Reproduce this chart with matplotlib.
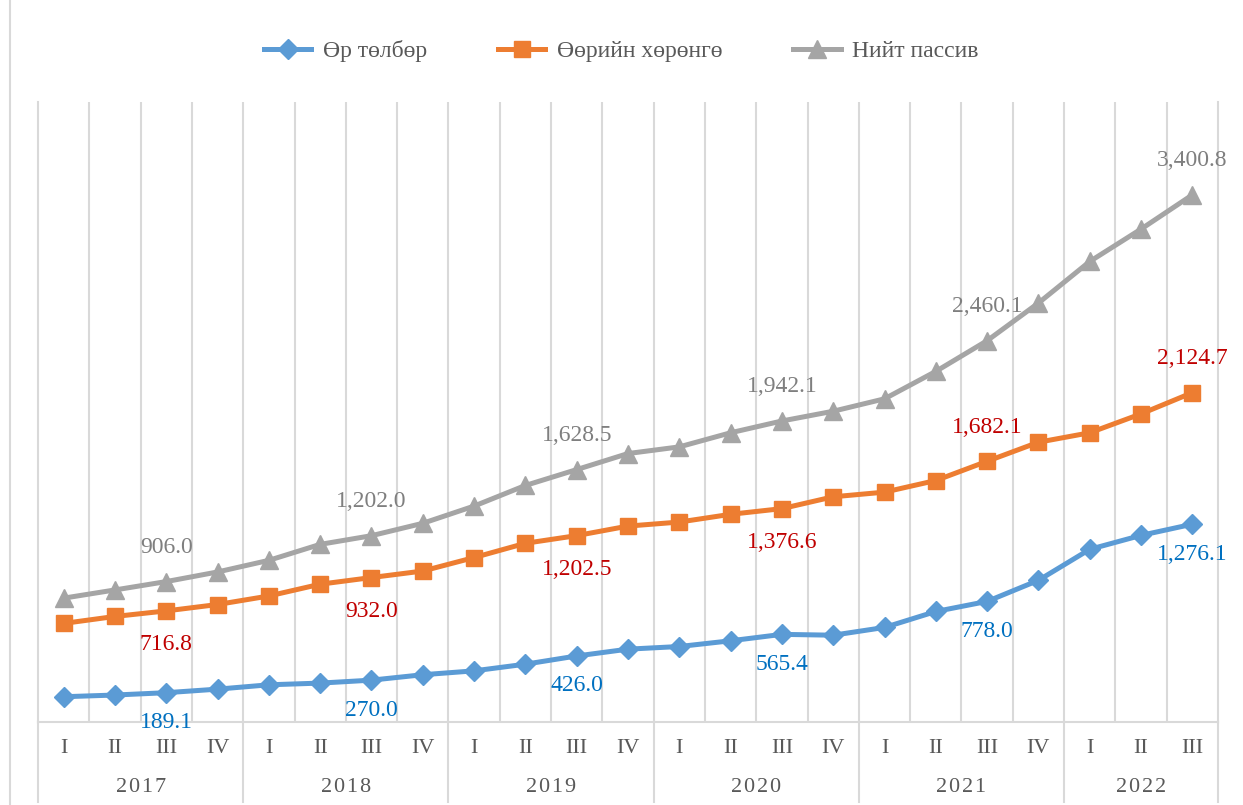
import matplotlib.pyplot as plt
from matplotlib.lines import Line2D
from matplotlib.transforms import blended_transform_factory

plt.rcParams['font.family'] = ['Liberation Serif', 'DejaVu Serif']

years = ["2017", "2018", "2019", "2020", "2021", "2022"]
quarters = ["I", "II", "III", "IV"] * 5 + ["I", "II", "III"]

# Өр төлбөр
debt = [163, 174, 189.1, 212, 240, 251, 270.0, 305,
        330, 373, 426.0, 470, 487, 524, 565.4, 560,
        610, 713, 778.0, 914, 1114, 1204, 1276.1]
# Өөрийн хөрөнгө
equity = [636, 681, 716.8, 758, 813, 889, 932.0, 974,
          1061, 1153, 1202.5, 1264, 1290, 1340, 1376.6, 1453,
          1483, 1558, 1682.1, 1805, 1866, 1988, 2124.7]
# Нийт пассив
total = [799, 852, 906.0, 968, 1043, 1146, 1202.0, 1282,
         1393, 1526, 1628.5, 1732, 1775, 1866, 1942.1, 2005,
         2085, 2262, 2460.1, 2703, 2971, 3180, 3400.8]

labels_names = ["Өр төлбөр", "Өөрийн хөрөнгө", "Нийт пассив"]

fig = plt.figure(figsize=(12.43, 8.05), dpi=100)
ax = fig.add_axes([38 / 1243, 83 / 805, 1180 / 1243, 620 / 805])

x = list(range(len(debt)))
grid_c = "#D9D9D9"

ax.plot(x, debt, color="#5B9BD5", lw=3.6, marker="D", ms=10, label=labels_names[0], zorder=3)
ax.plot(x, equity, color="#ED7D31", lw=3.6, marker="s", ms=11.5, label=labels_names[1], zorder=3)
ax.plot(x, total, color="#A5A5A5", lw=3.6, marker="^", ms=12.5, label=labels_names[2], zorder=3)

ax.set_xlim(-0.5, len(x) - 0.5)
ax.set_ylim(0, 4000)
ax.set_yticks([])
ax.set_xticks([])
ax.spines["top"].set_visible(False)
for s in ["left", "right", "bottom"]:
    ax.spines[s].set_color(grid_c)
    ax.spines[s].set_linewidth(1.5)

for b in range(len(x) - 1):
    ax.axvline(b + 0.5, color=grid_c, lw=1.5, zorder=0)

# data labels on quarter III
px = 72 / 100
for i in range(2, len(x), 4):
    ax.annotate(f"{debt[i]:,.1f}", (i, debt[i]), xytext=(0, -30 * px), textcoords="offset points",
                ha="center", va="center", fontsize=17, color="#0070C0")
    off = -34 if equity[i] < 1500 else 34
    ax.annotate(f"{equity[i]:,.1f}", (i, equity[i]), xytext=(0, off * px), textcoords="offset points",
                ha="center", va="center", fontsize=17, color="#C00000")
    ax.annotate(f"{total[i]:,.1f}", (i, total[i]), xytext=(0, 34 * px), textcoords="offset points",
                ha="center", va="center", fontsize=17, color="#7F7F7F")

# category axis: quarters and years
tr = blended_transform_factory(ax.transData, ax.transAxes)
for i, q in enumerate(quarters):
    ax.text(i, -26 / 620, q, transform=tr, ha="center", va="center", fontsize=16, color="#595959")
starts = [0, 4, 8, 12, 16, 20, 23]
for k, yr in enumerate(years):
    mid = (starts[k] + starts[k + 1] - 1) / 2
    ax.text(mid, -65 / 620, "\u200a".join(yr), transform=tr, ha="center", va="center",
            fontsize=16, color="#595959")
for s0 in starts:
    ax.plot([s0 - 0.5, s0 - 0.5], [0, -80 / 620], transform=tr, color=grid_c, lw=1.5, clip_on=False)

fig.add_artist(Line2D([10 / 1243, 10 / 1243], [0, 1], color=grid_c, lw=1.5))

fig.legend(loc="center", bbox_to_anchor=(0.5, 1 - 51 / 805), ncol=3, frameon=False,
           fontsize=17, handlelength=2.0, handletextpad=0.5, columnspacing=3.0,
           labelcolor="#595959")

fig.savefig("out.png", dpi=100)
